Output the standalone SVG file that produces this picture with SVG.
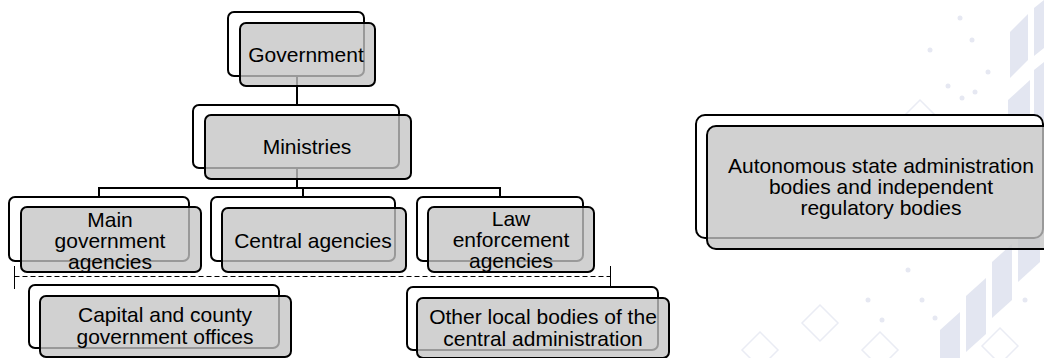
<svg xmlns="http://www.w3.org/2000/svg" width="1044" height="358" viewBox="0 0 1044 358">
<style>
.bg{fill:#ffffff}
.wm{fill:#e3e6f1}
.wml{fill:none;stroke:#eaecf4;stroke-width:1.5}
.star{fill:#e6e8f2}
.back{fill:#ffffff;stroke:#000000;stroke-width:2}
.front{fill:#c4c4c4;fill-opacity:0.78;stroke:#000000;stroke-width:2}
.conn{fill:none;stroke:#000000;stroke-width:2}
.dash{fill:none;stroke:#000000;stroke-width:1;stroke-dasharray:5 3}
.thin{fill:none;stroke:#000000;stroke-width:1}
text{font-family:"Liberation Sans",Arial,sans-serif;font-size:21px;fill:#000000;text-anchor:middle}
</style>
<rect class="bg" x="0" y="0" width="1044" height="358"/>
<g id="watermark">
<polygon class="wm" points="1010,32 1028,14 1028,60 1010,78"/>
<polygon class="wm" points="1034,8 1044,0 1044,48 1034,56"/>
<polygon class="wm" points="1008,100 1030,80 1030,140 1008,160"/>
<polygon class="wm" points="1034,70 1044,62 1044,120 1034,128"/>
<polygon class="wm" points="1018,230 1040,210 1040,262 1018,282"/>
<polygon class="wm" points="992,262 1012,244 1012,300 992,318"/>
<polygon class="wm" points="966,296 986,278 986,334 966,352"/>
<polygon class="wm" points="940,330 960,312 960,358 940,358"/>
<polygon class="wml" points="820,305 838,323 820,341 802,323"/>
<polygon class="wml" points="880,332 898,350 880,368 862,350"/>
<polygon class="wml" points="760,332 778,350 760,368 742,350"/>
<polygon class="wml" points="1000,328 1018,346 1000,364 982,346"/>
<polygon class="wml" points="920,100 936,116 920,132 904,116"/>
<g class="star">
<circle cx="960" cy="18" r="2.5"/><circle cx="972" cy="40" r="2.5"/><circle cx="930" cy="50" r="2.5"/>
<circle cx="988" cy="72" r="2.5"/><circle cx="948" cy="86" r="2.5"/><circle cx="962" cy="98" r="2.5"/>
<circle cx="975" cy="92" r="2.5"/><circle cx="908" cy="270" r="2.5"/><circle cx="922" cy="300" r="2.5"/>
<circle cx="935" cy="318" r="2.5"/><circle cx="868" cy="300" r="2.5"/><circle cx="882" cy="320" r="2.5"/>
<circle cx="1025" cy="300" r="2.5"/>
</g>
</g>
<g id="connectors">
<line class="conn" x1="297" y1="76" x2="297" y2="105"/>
<polyline class="conn" points="297,168 297,188"/>
<line class="conn" x1="98" y1="188" x2="501" y2="188"/>
<line class="conn" x1="99" y1="188" x2="99" y2="197"/>
<line class="conn" x1="303" y1="188" x2="303" y2="197"/>
<line class="conn" x1="500" y1="188" x2="500" y2="197"/>
<line class="dash" x1="14.5" y1="276.5" x2="610.5" y2="276.5"/>
<line class="thin" x1="14.5" y1="266" x2="14.5" y2="289"/>
<line class="thin" x1="610.5" y1="266" x2="610.5" y2="289"/>
</g>
<g id="government">
<rect class="back" x="228" y="12" width="136" height="64" rx="6"/>
<rect class="front" x="240" y="23" width="135" height="63" rx="6"/>
<text x="306" y="62">Government</text>
</g>
<g id="ministries">
<rect class="back" x="193" y="105" width="206" height="63" rx="6"/>
<rect class="front" x="205" y="115" width="206" height="64" rx="6"/>
<text x="307" y="154">Ministries</text>
</g>
<g id="main-government-agencies">
<rect class="back" x="9" y="197" width="180" height="64" rx="6"/>
<rect class="front" x="21" y="207" width="180" height="65" rx="6"/>
<text x="110" y="227">Main</text>
<text x="110" y="248">government</text>
<text x="110" y="269">agencies</text>
</g>
<g id="central-agencies">
<rect class="back" x="211" y="197" width="184" height="64" rx="6"/>
<rect class="front" x="222" y="208" width="184" height="64" rx="6"/>
<text x="313" y="248">Central agencies</text>
</g>
<g id="law-enforcement-agencies">
<rect class="back" x="417" y="197" width="166" height="64" rx="6"/>
<rect class="front" x="428" y="207" width="166" height="65" rx="6"/>
<text x="511" y="226">Law</text>
<text x="511" y="247">enforcement</text>
<text x="511" y="268">agencies</text>
</g>
<g id="capital-county-offices">
<rect class="back" x="29" y="285" width="250" height="63" rx="6"/>
<rect class="front" x="40" y="296" width="251" height="61" rx="6"/>
<text x="165" y="322">Capital and county</text>
<text x="165" y="344">government offices</text>
</g>
<g id="other-local-bodies">
<rect class="back" x="407" y="287" width="251" height="63" rx="6"/>
<rect class="front" x="417" y="298" width="252" height="60" rx="6"/>
<text x="543" y="324">Other local bodies of the</text>
<text x="543" y="346">central administration</text>
</g>
<g id="autonomous-bodies">
<rect class="back" x="696" y="115" width="347" height="123" rx="9"/>
<rect class="front" x="707" y="126" width="348" height="123" rx="9"/>
<text x="881" y="173">Autonomous state administration</text>
<text x="881" y="194">bodies and independent</text>
<text x="881" y="215">regulatory bodies</text>
</g>
</svg>
